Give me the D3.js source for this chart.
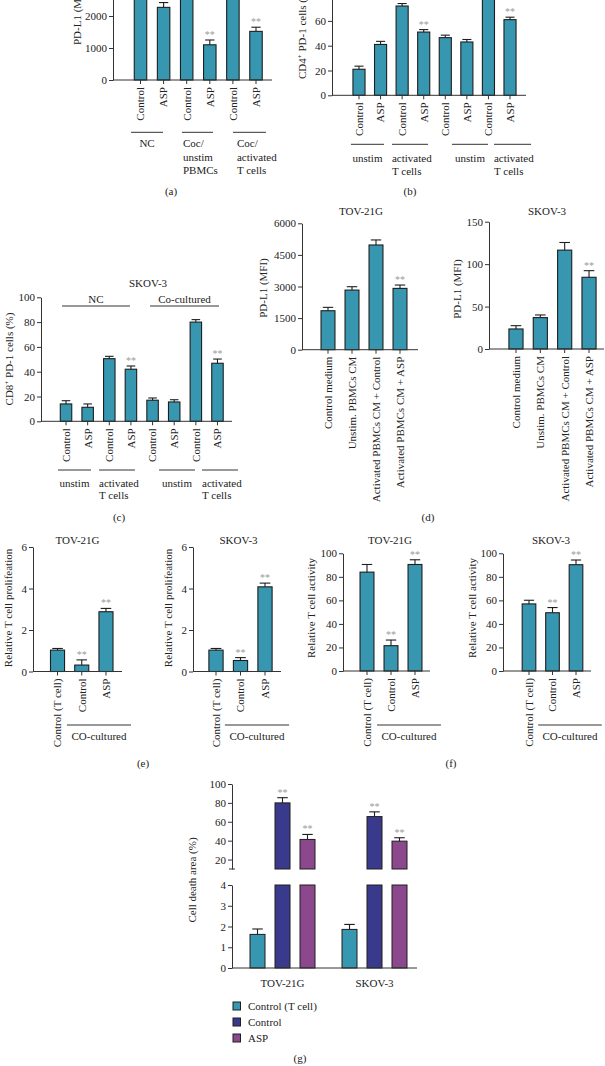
<!DOCTYPE html>
<html><head><meta charset="utf-8">
<script src="https://cdn.jsdelivr.net/npm/d3@7"></script>
<style>
body{margin:0;background:#fff;}
svg{display:block;}
</style></head><body>
<svg id="fig" width="605" height="1066"></svg>
<script>
// ================= DATA =================
// (a)
const aCategories = ["Control","ASP","Control","ASP","Control","ASP"];
const aValues = [2600, 2270, 3900, 1100, 4300, 1520];
const aErrors = [150, 150, 200, 150, 200, 130];
const aSig = ["","","","**","","**"];
const aTicks = [0,1000,2000];
const aGroupLabels = [["NC"],["Coc/","unstim","PBMCs"],["Coc/","activated","T cells"]];
const aGroupSpans = [[0,1],[2,3],[4,5]];
// (b)
const bCategories = ["Control","ASP","Control","ASP","Control","ASP","Control","ASP"];
const bValues = [21, 41, 72, 51, 46.5, 43, 85, 61];
const bErrors = [2.5, 2.5, 2, 2, 2, 2, 2.5, 2];
const bSig = ["","","","**","","","","**"];
const bTicks = [0,20,40,60];
const bGroupLabels = [["unstim"],["activated","T cells"],["unstim"],["activated","T cells"]];
const bGroupSpans = [[0,1],[2,3],[4,5],[6,7]];
// (c)
const cTitle = "SKOV-3";
const cCategories = ["Control","ASP","Control","ASP","Control","ASP","Control","ASP"];
const cValues = [14, 11.3, 50.5, 42, 17, 15.6, 80, 46.8];
const cErrors = [2.6, 2.7, 1.9, 2.6, 1.8, 1.8, 2, 3.4];
const cSig = ["","","","**","","","","**"];
const cTicks = [0,20,40,60,80,100];
const cTopLabels = [["NC"],["Co-cultured"]];
const cTopSpans = [[0,3],[4,7]];
const cBottomLabels = [["unstim"],["activated","T cells"],["unstim"],["activated","T cells"]];
const cBottomSpans = [[0,1],[2,3],[4,5],[6,7]];
// (d)
const dCategories = ["Control medium","Unstim. PBMCs CM","Activated PBMCs CM + Control","Activated PBMCs CM + ASP"];
const dTovValues = [1850, 2830, 4970, 2910];
const dTovErrors = [160, 160, 240, 160];
const dTovSig = ["","","","**"];
const dTovTicks = [0,1500,3000,4500,6000];
const dSkovValues = [23.6, 37, 116.5, 84.5];
const dSkovErrors = [3.9, 3.1, 9, 7.8];
const dSkovSig = ["","","","**"];
const dSkovTicks = [0,50,100,150];
// (e), (f)
const efCategories = ["Control (T cell)","Control","ASP"];
const efGroupLabels = [["CO-cultured"]];
const efGroupSpans = [[1,2]];
const eTovValues = [1.03, 0.31, 2.88];
const eTovErrors = [0.08, 0.25, 0.16];
const eSkovValues = [1.03, 0.53, 4.08];
const eSkovErrors = [0.08, 0.14, 0.18];
const eSig = ["","**","**"];
const eTicks = [0,2,4,6];
const fTovValues = [84, 21.5, 90.5];
const fTovErrors = [6.5, 4.8, 4];
const fSkovValues = [57, 49.5, 90.3];
const fSkovErrors = [3.1, 4.4, 4];
const fSig = ["","**","**"];
const fTicks = [0,20,40,60,80,100];
// (g)
const gGroups = ["TOV-21G","SKOV-3"];
const gSeries = ["Control (T cell)","Control","ASP"];
const gControlT = [1.62, 1.86];
const gControlTErr = [0.26, 0.24];
const gControl = [80, 65.5];
const gControlErr = [5.5, 5];
const gASP = [41.3, 39.5];
const gASPErr = [5.3, 3.6];
const gSigControlT = ["",""];
const gSigControl = ["**","**"];
const gSigASP = ["**","**"];
const gUpperTicks = [20,40,60,80,100];
const gLowerTicks = [0,1,2,3,4];

// ================= STYLE =================
const FONT = '"Liberation Serif","Times New Roman",serif';
const FS = 11;
const TEAL = "#3797b1", NAVY = "#3a3a8c", PURPLE = "#8c488c";
const EDGE = "#1e1e1e", AXIS = "#333", INK = "#222", STAR = "#9a9a9a";

const svg = d3.select("#fig").attr("font-family", FONT).attr("font-size", FS);
svg.append("rect").attr("width",605).attr("height",1066).attr("fill","#fff");

function styleAxis(sel){
  sel.attr("font-family", FONT).attr("font-size", FS);
  sel.selectAll("path,line").attr("stroke", AXIS).attr("stroke-width", 1);
  sel.selectAll("text").attr("fill", INK);
}

function text(g, x, y, str, anchor, size, fill){
  return g.append("text").attr("x",x).attr("y",y).attr("text-anchor",anchor||"middle")
    .attr("font-size",size||FS).attr("fill",fill||INK).text(str);
}

function yLabel(x, y, parts, anchor){
  const t = svg.append("text").attr("transform",`translate(${x},${y}) rotate(-90)`)
    .attr("text-anchor", anchor||"middle").attr("font-size",FS).attr("fill",INK);
  parts.forEach(p=>{
    if (typeof p === "string") t.append("tspan").text(p);
    else t.append("tspan").attr("dy",p.dy).attr("font-size",p.fs||FS).text(p.t);
  });
}

function errBar(g, xc, yTop, yErr, cap, sig){
  g.append("line").attr("x1",xc).attr("x2",xc).attr("y1",yTop).attr("y2",yErr).attr("stroke",EDGE).attr("stroke-width",1.1);
  g.append("line").attr("x1",xc-cap/2).attr("x2",xc+cap/2).attr("y1",yErr).attr("y2",yErr).attr("stroke",EDGE).attr("stroke-width",1.1);
  if (sig) text(g, xc, yErr-2, sig, "middle", 10, STAR);
}

function drawGroups(g, x, bw, gr){
  gr.spans.forEach((s,k)=>{
    const x0 = x(s[0]) + gr.offs[k][0], x1 = x(s[1]) + bw + gr.offs[k][1];
    g.append("line").attr("x1",x0).attr("x2",x1).attr("y1",gr.lineY).attr("y2",gr.lineY)
      .attr("stroke",AXIS).attr("stroke-width",1);
    const L = gr.labels[k];
    L.forEach((t,j)=>{
      if (L.length>1) text(g, x0 + (gr.tdx ? gr.tdx[k] : 1), gr.textY + j*gr.lh, t, "start");
      else text(g, (x0+x1)/2, gr.textY, t, "middle");
    });
  });
}

function barPanel(o){
  const g = svg.append("g");
  const n = o.values.length;
  const x = d3.scaleBand().domain(d3.range(n)).range(o.band).paddingInner(o.pad).paddingOuter(o.pad/2);
  const y = d3.scaleLinear().domain(o.yDomain).range(o.yRange);
  const bw = x.bandwidth(), y0 = y(0);
  g.append("g").selectAll("rect").data(o.values).join("rect")
    .attr("x",(d,i)=>x(i)).attr("y",d=>y(d)).attr("width",bw).attr("height",d=>y0-y(d))
    .attr("fill",TEAL).attr("stroke",EDGE).attr("stroke-width",1.1);
  o.values.forEach((v,i)=> errBar(g, x(i)+bw/2, y(v), y(v+o.errors[i]), bw*0.75, o.sig[i]));
  const ya = g.append("g").attr("transform",`translate(${o.axisX},0)`)
    .call(d3.axisLeft(y).tickValues(o.ticks).tickSize(4).tickPadding(2).tickSizeOuter(0).tickFormat(d3.format("d")));
  styleAxis(ya);
  const xa = g.append("g").attr("transform",`translate(0,${y0})`)
    .call(d3.axisBottom(x).tickSize(4).tickSizeOuter(0).tickFormat(i=>o.categories[i]));
  xa.select(".domain").remove();
  styleAxis(xa);
  xa.selectAll("text").attr("transform","rotate(-90)").attr("x",-7).attr("y",0)
    .attr("dy","0.35em").attr("text-anchor","end");
  g.append("line").attr("x1",o.axisX).attr("x2",o.axisEnd).attr("y1",y0).attr("y2",y0)
    .attr("stroke",AXIS).attr("stroke-width",1);
  if (o.title) text(g, o.title[1], o.title[2], o.title[0]);
  (o.groups||[]).forEach(gr=>drawGroups(g, x, bw, gr));
  return {x,y};
}

// ================= (a) =================
barPanel({values:aValues, errors:aErrors, sig:aSig, categories:aCategories, ticks:aTicks,
  band:[128.95,267.55], pad:0.46, yDomain:[0,5000], yRange:[80,-80], axisX:113, axisEnd:272,
  groups:[{spans:aGroupSpans, labels:aGroupLabels, offs:[[-3.2,-6.8],[1.5,-3],[6.3,3.7]],
    lineY:132.3, textY:147.3, lh:13.3, tdx:[1,1,4]}]});
yLabel(81, 45, ["PD-L1 (MFI)"], "start");
text(svg, 171, 195, "(a)");

// ================= (b) =================
barPanel({values:bValues, errors:bErrors, sig:bSig, categories:bCategories, ticks:bTicks,
  band:[348.2,520.8], pad:0.44, yDomain:[0,100], yRange:[95.3,-28.7], axisX:332, axisEnd:526,
  groups:[{spans:bGroupSpans, labels:bGroupLabels, offs:[[-2,-2.6],[-4.1,-1.7],[12.7,15.1],[11.6,15]],
    lineY:144.3, textY:161.5, lh:13, tdx:[0,0,0,0]}]});
yLabel(306, 79, ["CD4", {t:"+", dy:-4, fs:7}, {t:" PD-1 cells (%)", dy:4}], "start");
text(svg, 410, 195, "(b)");

// ================= (c) =================
barPanel({values:cValues, errors:cErrors, sig:cSig, categories:cCategories, ticks:cTicks,
  band:[55.2,228.3], pad:0.47, yDomain:[0,100], yRange:[421.3,297.3], axisX:41, axisEnd:232,
  title:[cTitle,148,287],
  groups:[
    {spans:cTopSpans, labels:cTopLabels, offs:[[1.75,-6.7],[3.2,-4.25]], lineY:306, textY:303, lh:13},
    {spans:cBottomSpans, labels:cBottomLabels, offs:[[-2.25,-2.4],[-4.5,-1.7],[12.2,15],[11.9,14.75]],
      lineY:470, textY:486.5, lh:12.8, tdx:[0,0,0,0]}]});
yLabel(13, 359, ["CD8", {t:"+", dy:-4, fs:7}, {t:" PD-1 cells (%)", dy:4}]);
text(svg, 119, 521, "(c)");

// ================= (d) =================
barPanel({values:dTovValues, errors:dTovErrors, sig:dTovSig, categories:dCategories, ticks:dTovTicks,
  band:[316,412], pad:0.42, yDomain:[0,6000], yRange:[349.7,223.3], axisX:302, axisEnd:418,
  title:["TOV-21G",361,215]});
yLabel(267, 288, ["PD-L1 (MFI)"]);
barPanel({values:dSkovValues, errors:dSkovErrors, sig:dSkovSig, categories:dCategories, ticks:dSkovTicks,
  band:[503.8,601.2], pad:0.42, yDomain:[0,150], yRange:[349,221.7], axisX:489, axisEnd:604,
  title:["SKOV-3",547,215]});
yLabel(461, 289, ["PD-L1 (MFI)"]);
text(svg, 428, 521, "(d)");

// ================= (e) =================
barPanel({values:eTovValues, errors:eTovErrors, sig:eSig, categories:efCategories, ticks:eTicks,
  band:[45.4,118.1], pad:0.42, yDomain:[0,6], yRange:[671.5,547], axisX:33, axisEnd:122,
  title:["TOV-21G",77.5,544],
  groups:[{spans:efGroupSpans, labels:efGroupLabels, offs:[[-7.75,18]], lineY:725, textY:740, lh:13}]});
yLabel(12, 608, ["Relative T cell prolifeation"]);
barPanel({values:eSkovValues, errors:eSkovErrors, sig:eSig, categories:efCategories, ticks:eTicks,
  band:[203.75,277.25], pad:0.42, yDomain:[0,6], yRange:[671.5,547], axisX:193, axisEnd:281,
  title:["SKOV-3",238.5,544],
  groups:[{spans:efGroupSpans, labels:efGroupLabels, offs:[[-8.5,17]], lineY:725, textY:740, lh:13}]});
yLabel(171.5, 608, ["Relative T cell prolifeation"]);
text(svg, 143, 767, "(e)");

// ================= (f) =================
barPanel({values:fTovValues, errors:fTovErrors, sig:fSig, categories:efCategories, ticks:fTicks,
  band:[355,427], pad:0.42, yDomain:[0,100], yRange:[671,553.3], axisX:343, axisEnd:430,
  title:["TOV-21G",390,544],
  groups:[{spans:efGroupSpans, labels:efGroupLabels, offs:[[-7,19]], lineY:725, textY:740, lh:13}]});
yLabel(315, 608, ["Relative T cell activity"]);
barPanel({values:fSkovValues, errors:fSkovErrors, sig:fSig, categories:efCategories, ticks:fTicks,
  band:[517.25,587.75], pad:0.42, yDomain:[0,100], yRange:[671,553.3], axisX:503, axisEnd:591,
  title:["SKOV-3",551,544],
  groups:[{spans:efGroupSpans, labels:efGroupLabels, offs:[[-7.5,19]], lineY:725, textY:740, lh:13}]});
yLabel(475.5, 608, ["Relative T cell activity"]);
text(svg, 451, 767, "(f)");

// ================= (g) =================
(function(){
  const g = svg.append("g");
  const axisX = 232, axisEnd = 417;
  const x0 = d3.scaleBand().domain(gGroups).range([236.5,420.5]).padding(0);
  const x1 = d3.scaleBand().domain(gSeries).range([8.5,83.5]).paddingInner(0.4).paddingOuter(0.2);
  const yL = d3.scaleLinear().domain([0,4]).range([968,885]);
  const yU = d3.scaleLinear().domain([10,100]).range([869,784]);
  const colors = d3.scaleOrdinal().domain(gSeries).range([TEAL,NAVY,PURPLE]);
  const series = [
    {name:gSeries[0], v:gControlT, e:gControlTErr, s:gSigControlT},
    {name:gSeries[1], v:gControl, e:gControlErr, s:gSigControl},
    {name:gSeries[2], v:gASP, e:gASPErr, s:gSigASP}];
  const bw = x1.bandwidth();
  series.forEach(se=>{
    gGroups.forEach((grp,gi)=>{
      const v = se.v[gi], e = se.e[gi];
      const xl = x0(grp) + x1(se.name), xc = xl + bw/2;
      const lowTop = v > 4 ? yL(4) : yL(v);
      g.append("rect").attr("x",xl).attr("y",lowTop).attr("width",bw).attr("height",yL(0)-lowTop)
        .attr("fill",colors(se.name)).attr("stroke",EDGE).attr("stroke-width",1);
      if (v > 4) {
        g.append("rect").attr("x",xl).attr("y",yU(v)).attr("width",bw).attr("height",yU(10)-yU(v))
          .attr("fill",colors(se.name)).attr("stroke",EDGE).attr("stroke-width",1);
        errBar(g, xc, yU(v), yU(v+e), bw*0.7, se.s[gi]);
      } else {
        errBar(g, xc, yL(v), yL(v+e), bw*0.7, se.s[gi]);
      }
    });
  });
  const au = g.append("g").attr("transform",`translate(${axisX},0)`)
    .call(d3.axisLeft(yU).tickValues(gUpperTicks).tickSize(4).tickPadding(2).tickSizeOuter(0).tickFormat(d3.format("d")));
  styleAxis(au);
  g.append("line").attr("x1",axisX-3).attr("x2",axisX+3).attr("y1",yU(10)).attr("y2",yU(10)).attr("stroke",AXIS);
  const al = g.append("g").attr("transform",`translate(${axisX},0)`)
    .call(d3.axisLeft(yL).tickValues(gLowerTicks).tickSize(4).tickPadding(2).tickSizeOuter(0).tickFormat(d3.format("d")));
  styleAxis(al);
  g.append("line").attr("x1",axisX).attr("x2",axisEnd).attr("y1",yL(0)).attr("y2",yL(0)).attr("stroke",AXIS);
  const xa = g.append("g").attr("transform",`translate(0,${yL(0)})`)
    .call(d3.axisBottom(x0).tickSize(0).tickPadding(8));
  xa.select(".domain").remove();
  styleAxis(xa);
  xa.selectAll("text").attr("y",11).attr("dy","0.71em");
  yLabel(196, 880, ["Cell death area (%)"]);
  // legend
  gSeries.forEach((s,i)=>{
    g.append("rect").attr("x",233).attr("y",1002 + i*16).attr("width",7.5).attr("height",8)
      .attr("fill",colors(s)).attr("stroke",EDGE).attr("stroke-width",1);
    text(g, 248, 1010 + i*16, s, "start");
  });
  text(svg, 300, 1062, "(g)");
})();
</script>
</body></html>
